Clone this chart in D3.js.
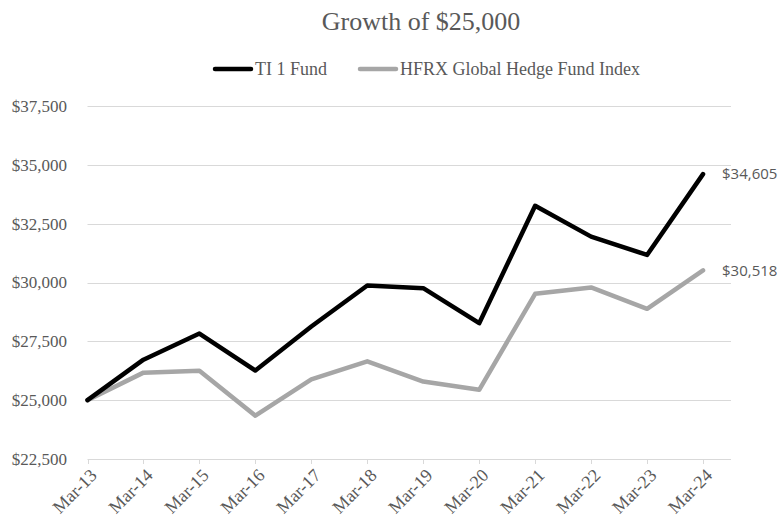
<!DOCTYPE html>
<html>
<head>
<meta charset="utf-8">
<script src="https://cdn.jsdelivr.net/npm/d3@7"></script>
<style>
  body { margin: 0; background: #fff; }
  svg { display: block; }
</style>
</head>
<body>
<div id="chart"><svg width="784" height="518"></svg></div>
<script>
// chart data
const periods = ['Mar-13','Mar-14','Mar-15','Mar-16','Mar-17','Mar-18','Mar-19','Mar-20','Mar-21','Mar-22','Mar-23','Mar-24'];
const fundValues = [25000, 26720, 27830, 26260, 28130, 29870, 29760, 28270, 33260, 31950, 31170, 34605];
const hfrxValues = [25000, 26170, 26250, 24340, 25880, 26650, 25790, 25440, 29520, 29790, 28880, 30518];
const yTicks = [22500, 25000, 27500, 30000, 32500, 35000, 37500];
const seriesNames = ['TI 1 Fund', 'HFRX Global Hedge Fund Index'];

const svg = d3.select('#chart svg');
const margin = {t:106, r:53, b:59, l:87.5};
const width = 784, height = 518;

const serif = '"Liberation Serif", "Times New Roman", serif';
const textColor = '#595959';

// scales: first point sits on the left edge, half a step of room on the right
const scaleX = d3.scaleLinear()
    .domain([0, periods.length - 0.5])
    .range([margin.l, width - margin.r]);
const scaleY = d3.scaleLinear()
    .domain([22500, 37500])
    .range([height - margin.b, margin.t]);

// gridlines
svg.append('g')
    .selectAll('line')
    .data(yTicks)
    .join('line')
    .attr('x1', margin.l)
    .attr('x2', width - margin.r)
    .attr('y1', d => Math.round(scaleY(d)) + 0.5)
    .attr('y2', d => Math.round(scaleY(d)) + 0.5)
    .style('stroke', '#d9d9d9')
    .style('stroke-width', 1);

// y labels
svg.append('g')
    .selectAll('text')
    .data(yTicks)
    .join('text')
    .attr('x', 67)
    .attr('y', d => scaleY(d))
    .attr('dy', '0.35em')
    .attr('text-anchor', 'end')
    .style('font-family', serif)
    .style('font-size', '17px')
    .style('fill', textColor)
    .text(d => '$' + d3.format(',')(d));

// x ticks + labels
const xAxis = svg.append('g');
xAxis.selectAll('line')
    .data(periods)
    .join('line')
    .attr('x1', (d, i) => Math.round(scaleX(i)) + 0.5)
    .attr('x2', (d, i) => Math.round(scaleX(i)) + 0.5)
    .attr('y1', scaleY(22500))
    .attr('y2', scaleY(22500) + 5)
    .style('stroke', '#d9d9d9');
xAxis.selectAll('text')
    .data(periods)
    .join('text')
    .attr('transform', (d, i) => `translate(${scaleX(i) + 6},${scaleY(22500) + 13}) rotate(-45)`)
    .attr('text-anchor', 'end')
    .attr('dy', '0.35em')
    .style('font-family', serif)
    .style('font-size', '18px')
    .style('fill', textColor)
    .text(d => d);

// lines
const line = d3.line()
    .x((d, i) => scaleX(i))
    .y(d => scaleY(d));

svg.append('path')
    .datum(hfrxValues)
    .attr('d', line)
    .style('fill', 'none')
    .style('stroke', '#a6a6a6')
    .style('stroke-width', 4.5)
    .style('stroke-linejoin', 'round')
    .style('stroke-linecap', 'round');

svg.append('path')
    .datum(fundValues)
    .attr('d', line)
    .style('fill', 'none')
    .style('stroke', '#000')
    .style('stroke-width', 4.5)
    .style('stroke-linejoin', 'round')
    .style('stroke-linecap', 'round');

// end labels
const last = periods.length - 1;
svg.append('g')
    .selectAll('text')
    .data([fundValues[last], hfrxValues[last]])
    .join('text')
    .attr('x', scaleX(last) + 19)
    .attr('y', d => scaleY(d))
    .attr('dy', '0.35em')
    .style('font-family', '"Open Sans", "Liberation Sans", sans-serif')
    .style('font-size', '15px')
    .style('fill', textColor)
    .text(d => '$' + d3.format(',')(d));

// title
svg.append('text')
    .attr('x', 421)
    .attr('y', 30)
    .attr('text-anchor', 'middle')
    .style('font-family', serif)
    .style('font-size', '26px')
    .style('fill', textColor)
    .text('Growth of $25,000');

// legend
const legend = svg.append('g')
    .attr('transform', 'translate(0,69)');
const legendItems = [
    {name: seriesNames[0], color: '#000', x: 213},
    {name: seriesNames[1], color: '#a6a6a6', x: 358}
];
legend.selectAll('line')
    .data(legendItems)
    .join('line')
    .attr('x1', d => d.x + 2)
    .attr('x2', d => d.x + 38)
    .attr('y1', 0)
    .attr('y2', 0)
    .style('stroke', d => d.color)
    .style('stroke-width', 4.5)
    .style('stroke-linecap', 'round');
legend.selectAll('text')
    .data(legendItems)
    .join('text')
    .attr('x', d => d.x + 42)
    .attr('y', 0)
    .attr('dy', '0.35em')
    .style('font-family', serif)
    .style('font-size', '18px')
    .style('fill', textColor)
    .text(d => d.name);
</script>
</body>
</html>
